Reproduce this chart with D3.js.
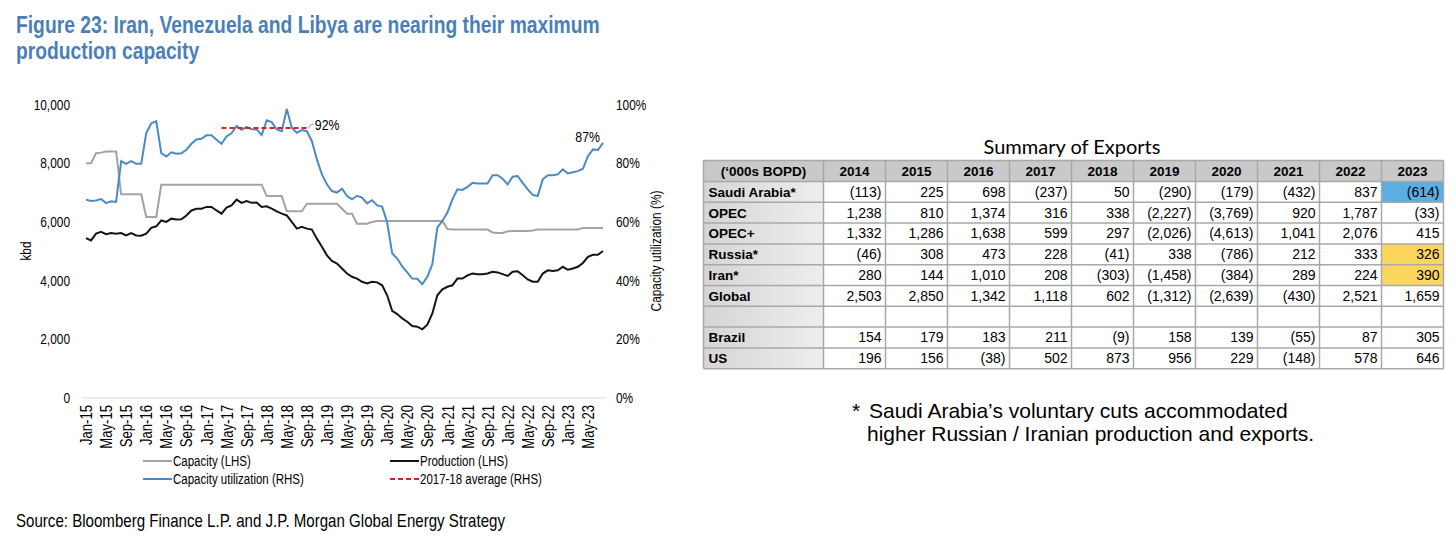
<!DOCTYPE html>
<html lang="en">
<head>
<meta charset="UTF-8">
<title>Iran, Venezuela and Libya capacity</title>
<script src="https://d3js.org/d3.v7.min.js"></script>
<style>
    body { margin: 0; background: #fff; }
    .narrow { font-family: "Liberation Sans Narrow", "Arial Narrow", "Liberation Sans", Arial, sans-serif; }
    .helv { font-family: "Liberation Sans", Arial, Helvetica, sans-serif; }
    .axis text { font-family: "Liberation Sans Narrow", "Arial Narrow", "Liberation Sans", Arial, sans-serif; font-size: 14.5px; fill: #000; }
</style>
</head>
<body>
<svg id="fig" width="1456" height="551"></svg>
<script>
// months Jan-15 .. Aug-23
const fmtMonth = d3.timeFormat("%b-%y");
const months = d3.timeMonth.range(new Date(2015, 0, 1), new Date(2023, 8, 1)).map(fmtMonth);

const tickLabels = ["Jan-15","May-15","Sep-15","Jan-16","May-16","Sep-16","Jan-17","May-17","Sep-17",
    "Jan-18","May-18","Sep-18","Jan-19","May-19","Sep-19","Jan-20","May-20","Sep-20","Jan-21","May-21",
    "Sep-21","Jan-22","May-22","Sep-22","Jan-23","May-23"];
const leftTicks = [0, 2000, 4000, 6000, 8000, 10000];
const rightTicks = [0, 20, 40, 60, 80, 100];

// kbd
const capacity = [8000,8000,8340,8360,8400,8400,8400,6940,6940,6940,6940,6940,6170,6170,6170,
    7270,7270,7270,7270,7270,7270,7270,7270,7270,7270,7270,7270,7270,7270,7270,7270,7270,7270,7270,7270,7270,
    6880,6880,6880,6880,6360,6360,6360,6360,6620,6620,6620,6620,6620,6620,6620,
    6450,6280,6280,5940,5940,5940,6000,
    6030,6030,6030,6030,6030,6030,6030,6030,6030,6030,6030,6030,6030,6030,
    5760,5740,5740,5740,5740,5740,5740,5740,5740,5640,5620,5620,
    5680,5690,5690,5690,5690,5710,5740,5740,5740,5740,5740,5740,5740,5740,5740,
    5790,5790,5790,5790,5790];
const production = [5450,5370,5600,5660,5580,5620,5600,5620,5540,5620,
    5540,5530,5600,5800,5850,6050,6000,6110,6080,6090,
    6220,6390,6450,6450,6510,6510,6390,6280,6490,6560,
    6760,6650,6710,6650,6660,6510,6530,6450,6360,6280,
    6220,6000,5770,5830,5770,5740,5430,5150,4860,4670,
    4580,4410,4240,4130,4070,3960,3900,3960,3940,3840,
    3500,2970,2860,2710,2600,2450,2430,2340,2500,2880,
    3500,3700,3790,3840,4070,4070,4180,4240,4220,4220,
    4240,4300,4280,4220,4160,4300,4320,4180,4040,3960,
    3960,4240,4350,4330,4350,4470,4370,4410,4470,4600,
    4810,4880,4880,5010];
// %
const utilization = [67.6,67.1,67.3,67.8,66.4,67.0,66.8,80.7,79.8,80.7,
    79.8,79.8,90.2,93.6,94.3,83.4,82.3,83.7,83.2,83.4,
    84.6,86.6,88.1,88.3,89.5,89.5,88.0,86.6,89.1,90.2,
    92.7,91.4,92.3,91.6,91.5,89.6,94.6,94.0,91.5,90.9,
    98.5,92.1,90.4,91.3,90.9,87.5,81.3,76.2,72.8,70.5,
    70.0,71.3,68.8,67.7,68.9,68.3,66.3,67.4,65.6,65.2,
    59.8,49.3,47.5,44.8,42.8,40.7,40.6,38.8,41.3,45.6,
    58.1,60.3,63.2,67.7,71.1,70.9,71.9,73.3,73.1,73.1,
    73.1,75.9,75.9,74.7,72.8,75.4,75.6,73.3,71.1,69.2,
    68.8,74.5,75.9,75.9,76.2,77.9,76.5,76.9,77.3,78.1,
    82.4,84.7,84.5,86.9];
const avgPeriod = ["Apr-17", "Sep-18"];
const avgValue = 92;

// Summary of Exports ('000s BOPD)
const exportYears = ["2014","2015","2016","2017","2018","2019","2020","2021","2022","2023"];
const saudi    = [-113, 225, 698, -237, 50, -290, -179, -432, 837, -614];
const opec     = [1238, 810, 1374, 316, 338, -2227, -3769, 920, 1787, -33];
const opecPlus = [1332, 1286, 1638, 599, 297, -2026, -4613, 1041, 2076, 415];
const russia   = [-46, 308, 473, 228, -41, 338, -786, 212, 333, 326];
const iran     = [280, 144, 1010, 208, -303, -1458, -384, 289, 224, 390];
const globalEx = [2503, 2850, 1342, 1118, 602, -1312, -2639, -430, 2521, 1659];
const brazil   = [154, 179, 183, 211, -9, 158, 139, -55, 87, 305];
const usEx     = [196, 156, -38, 502, 873, 956, 229, -148, 578, 646];

const svg = d3.select("#fig");
const blue = "#4a8ac6", grey = "#a3a3a3", dark = "#141414", red = "#d42020", titleBlue = "#4a80ba";

// no narrow face installed: squeeze the regular one like Arial Narrow
function narrow(sel, f = 0.82) {
    sel.each(function() {
        const L = this.getComputedTextLength();
        d3.select(this).attr("textLength", L * f).attr("lengthAdjust", "spacingAndGlyphs");
    });
}

// titles
svg.append("text").attr("class", "narrow").attr("x", 16).attr("y", 33)
    .attr("font-size", 23.5).attr("font-weight", "bold").attr("fill", titleBlue)
    .text("Figure 23: Iran, Venezuela and Libya are nearing their maximum").call(narrow);
svg.append("text").attr("class", "narrow").attr("x", 16).attr("y", 59)
    .attr("font-size", 23.5).attr("font-weight", "bold").attr("fill", titleBlue)
    .text("production capacity").call(narrow);

const x = d3.scalePoint().domain(months).range([86, 603]);
const yL = d3.scaleLinear().domain([0, 10000]).range([398, 104.5]);
const yR = d3.scaleLinear().domain([0, 100]).range([398, 104.5]);

// axes
svg.append("line").attr("x1", 82).attr("x2", 606).attr("y1", 398).attr("y2", 398)
    .attr("stroke", "#d9d9d9").attr("stroke-width", 1);

svg.append("g").attr("class", "axis").attr("transform", "translate(73,0)")
    .call(d3.axisLeft(yL).tickValues(leftTicks).tickFormat(d3.format(",")).tickSize(0).tickPadding(3))
    .call(g => g.select(".domain").remove())
    .call(g => g.selectAll("text").call(narrow));

svg.append("g").attr("class", "axis").attr("transform", "translate(613,0)")
    .call(d3.axisRight(yR).tickValues(rightTicks).tickFormat(d => d + "%").tickSize(0).tickPadding(3))
    .call(g => g.select(".domain").remove())
    .call(g => g.selectAll("text").call(narrow));

svg.append("g").attr("class", "axis").attr("transform", "translate(0,398)")
    .call(d3.axisBottom(x).tickValues(tickLabels).tickSize(0))
    .call(g => g.select(".domain").remove())
    .selectAll("text")
    .style("font-size", "16px")
    .attr("transform", "rotate(-90)")
    .attr("x", -7).attr("y", 0).attr("dy", "0.35em")
    .style("text-anchor", "end")
    .call(narrow);

svg.append("text").attr("class", "narrow").attr("font-size", 14.5)
    .attr("transform", "translate(31,251) rotate(-90)").attr("text-anchor", "middle").text("kbd").call(narrow);
svg.append("text").attr("class", "narrow").attr("font-size", 14.5)
    .attr("transform", "translate(661,251) rotate(-90)").attr("text-anchor", "middle")
    .text("Capacity utilization (%)").call(narrow);

// lines
const lineL = d3.line().x((d, i) => x(months[i])).y(d => yL(d));
const lineR = d3.line().x((d, i) => x(months[i])).y(d => yR(d));

svg.append("path").datum(capacity).attr("d", lineL)
    .attr("fill", "none").attr("stroke", grey).attr("stroke-width", 2);
svg.append("path").datum(production).attr("d", lineL)
    .attr("fill", "none").attr("stroke", dark).attr("stroke-width", 2);
svg.append("path").datum(utilization).attr("d", lineR)
    .attr("fill", "none").attr("stroke", blue).attr("stroke-width", 2);
svg.append("line")
    .attr("x1", x(avgPeriod[0])).attr("x2", x(avgPeriod[1]))
    .attr("y1", yR(avgValue)).attr("y2", yR(avgValue))
    .attr("stroke", red).attr("stroke-width", 2).attr("stroke-dasharray", "5,3");

// data labels
const ax = x(avgPeriod[1]), ay = yR(avgValue);
svg.append("path").attr("d", `M${ax + 1},${ay} Q${ax + 4},${ay - 4} ${ax + 7},${ay - 4}`)
    .attr("fill", "none").attr("stroke", "#999").attr("stroke-width", 1);
svg.append("text").attr("class", "narrow").attr("font-size", 15)
    .attr("x", ax + 8).attr("y", ay + 2).text(avgValue + "%").call(narrow);
const last = utilization.length - 1;
svg.append("text").attr("class", "narrow").attr("font-size", 15).attr("text-anchor", "end")
    .attr("x", x(months[last]) - 3).attr("y", yR(utilization[last]) - 1)
    .text(Math.round(utilization[last]) + "%").call(narrow);

// legend
const legendItems = [
    {label: "Capacity (LHS)", color: grey, dash: null, x: 143, y: 461},
    {label: "Production (LHS)", color: dark, dash: null, x: 390, y: 461},
    {label: "Capacity utilization (RHS)", color: blue, dash: null, x: 143, y: 479},
    {label: "2017-18 average (RHS)", color: red, dash: "5,3", x: 390, y: 479}
];
const lg = svg.append("g").selectAll("g").data(legendItems).enter().append("g")
    .attr("transform", d => `translate(${d.x},${d.y})`);
lg.append("line").attr("x1", 0).attr("x2", 29).attr("y1", 0).attr("y2", 0)
    .attr("stroke", d => d.color).attr("stroke-width", 2)
    .attr("stroke-dasharray", d => d.dash);
lg.append("text").attr("class", "narrow").attr("font-size", 14)
    .attr("x", 30).attr("y", 5).text(d => d.label).call(narrow);

svg.append("text").attr("class", "narrow").attr("font-size", 18.4)
    .attr("x", 16).attr("y", 527)
    .text("Source: Bloomberg Finance L.P. and J.P. Morgan Global Energy Strategy").call(narrow);

// table
const tableRows = [
    {label: "Saudi Arabia*", values: saudi},
    {label: "OPEC", values: opec},
    {label: "OPEC+", values: opecPlus},
    {label: "Russia*", values: russia},
    {label: "Iran*", values: iran},
    {label: "Global", values: globalEx},
    {label: "", values: null},
    {label: "Brazil", values: brazil},
    {label: "US", values: usEx}
];
const highlights = {"Saudi Arabia*": "#5aaee2", "Russia*": "#fcd65c", "Iran*": "#fcd65c"};
const fmtNum = v => v < 0 ? "(" + d3.format(",")(-v) + ")" : d3.format(",")(v);

const t0x = 703.5, t0y = 160.5, c0w = 120, cw = 62, hh = 21, rh = 20.8;
const defs = svg.append("defs");
const grad = defs.append("linearGradient").attr("id", "firstcol");
grad.append("stop").attr("offset", "0%").attr("stop-color", "#d5d5d5");
grad.append("stop").attr("offset", "100%").attr("stop-color", "#eeeeee");

svg.append("text").attr("font-family", "Lato, 'Open Sans', sans-serif").attr("font-size", 20)
    .attr("x", 1072).attr("y", 154).attr("text-anchor", "middle").text("Summary of Exports");

const tbl = svg.append("g").attr("class", "helv");
// header
tbl.append("rect").attr("x", t0x).attr("y", t0y).attr("width", c0w + cw * exportYears.length).attr("height", hh)
    .attr("fill", "#c9c9c9");
tbl.append("text").attr("x", t0x + c0w / 2).attr("y", t0y + 15.5).attr("text-anchor", "middle")
    .attr("font-size", 13.5).attr("font-weight", "bold").text("(\u2018000s BOPD)");
tbl.selectAll(".yr").data(exportYears).enter().append("text")
    .attr("x", (d, i) => t0x + c0w + cw * i + cw / 2).attr("y", t0y + 15.5)
    .attr("text-anchor", "middle").attr("font-size", 13.5).attr("font-weight", "bold").text(d => d);

const rows = tbl.selectAll(".row").data(tableRows).enter().append("g")
    .attr("transform", (d, i) => `translate(${t0x},${t0y + hh + rh * i})`);
rows.append("rect").attr("width", c0w).attr("height", rh).attr("fill", "url(#firstcol)");
rows.each(function(d) {
    const g = d3.select(this);
    if (!d.values) return;
    d.values.forEach((v, j) => {
        if (j === d.values.length - 1 && highlights[d.label]) {
            g.append("rect").attr("x", c0w + cw * j).attr("width", cw).attr("height", rh)
                .attr("fill", highlights[d.label]);
        }
        g.append("text").attr("x", c0w + cw * (j + 1) - 4).attr("y", 15.3)
            .attr("text-anchor", "end").attr("font-size", 14).text(fmtNum(v));
    });
});
rows.append("text").attr("x", 5).attr("y", 15.3).attr("font-size", 13.5).attr("font-weight", "bold")
    .text(d => d.label);

// grid
const tableH = hh + rh * tableRows.length;
const vx = [0, c0w].concat(exportYears.map((d, i) => c0w + cw * (i + 1)));
tbl.selectAll(".vl").data(vx).enter().append("line")
    .attr("x1", d => t0x + d).attr("x2", d => t0x + d)
    .attr("y1", t0y).attr("y2", t0y + tableH)
    .attr("stroke", "#a8a8a8").attr("stroke-width", 1.5);
const hy = [0, hh].concat(tableRows.map((d, i) => hh + rh * (i + 1)));
tbl.selectAll(".hl").data(hy).enter().append("line")
    .attr("x1", t0x).attr("x2", t0x + c0w + cw * exportYears.length)
    .attr("y1", d => t0y + d).attr("y2", d => t0y + d)
    .attr("stroke", "#a8a8a8").attr("stroke-width", 1.5);

// footnote
const note = svg.append("g").attr("class", "helv").attr("font-size", 21);
note.append("text").attr("x", 852).attr("y", 418).text("*");
note.append("text").attr("x", 869).attr("y", 418).text("Saudi Arabia\u2019s voluntary cuts accommodated");
note.append("text").attr("x", 867).attr("y", 441).text("higher Russian / Iranian production and exports.");
</script>
</body>
</html>
